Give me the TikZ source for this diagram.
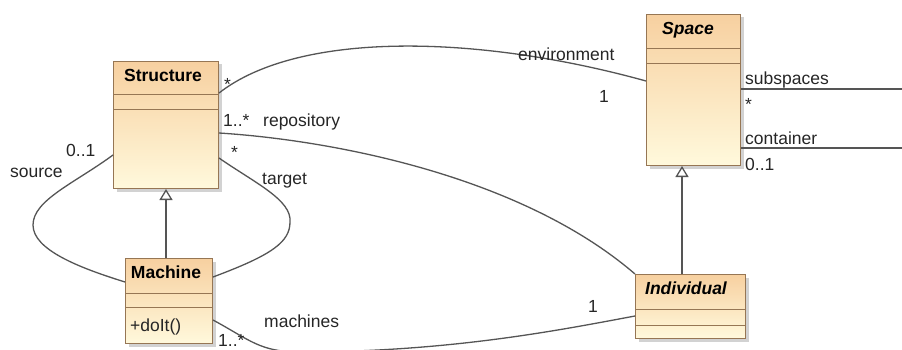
\documentclass[tikz,border=0pt]{standalone}
\usepackage{fontspec}
\setmainfont{Liberation Sans}
\usetikzlibrary{arrows.meta,shadows}
\definecolor{peachTop}{RGB}{247,208,160}
\definecolor{peachBot}{RGB}{255,249,220}
\definecolor{boxBorder}{RGB}{150,118,84}
\definecolor{lineGray}{RGB}{85,85,85}
\begin{document}
\begin{tikzpicture}[x=1pt,y=-1pt,
  cls/.style={draw=boxBorder, line width=1pt, top color=peachTop, bottom color=peachBot, inner sep=0pt, anchor=north west, drop shadow={opacity=0.35, shadow xshift=3pt, shadow yshift=-3pt}},
  divider/.style={draw=boxBorder, line width=1pt},
  ttl/.style={font=\fontsize{17.5}{20}\selectfont\bfseries, anchor=base, inner sep=0pt},
  ittl/.style={ttl, font=\fontsize{17.5}{20}\selectfont\bfseries\itshape},
  lbl/.style={font=\fontsize{17.5}{20}\selectfont, anchor=base west, inner sep=0pt, text=black!85},
  assoc/.style={draw=lineGray, line width=1.3pt},
  gen/.style={draw=lineGray, line width=1.3pt, -{Triangle[open, width=13pt, length=11pt]}}
]
\useasboundingbox[fill=white] (0,0) rectangle (902,350);

% classes
\node[cls, minimum width=105pt, minimum height=127pt] (struct) at (113,61) {};
\node[cls, minimum width=87pt, minimum height=85pt] (mach) at (125,258) {};
\node[cls, minimum width=94pt, minimum height=151pt] (sp) at (646,14) {};
\node[cls, minimum width=110pt, minimum height=64pt] (ind) at (635,274) {};

\path[divider] (struct.west |- 0,95) -- (struct.east |- 0,95);
\path[divider] (struct.west |- 0,110) -- (struct.east |- 0,110);
\path[divider] (mach.west |- 0,293) -- (mach.east |- 0,293);
\path[divider] (mach.west |- 0,307) -- (mach.east |- 0,307);
\path[divider] (sp.west |- 0,49) -- (sp.east |- 0,49);
\path[divider] (sp.west |- 0,64) -- (sp.east |- 0,64);
\path[divider] (ind.west |- 0,309) -- (ind.east |- 0,309);
\path[divider] (ind.west |- 0,325) -- (ind.east |- 0,325);

\node[ttl] (structT) at (163,82) {Structure};
\node[ttl] (machT) at (166,278) {Machine};
\node[ittl] (spT) at (688,35) {Space};
\node[ittl] (indT) at (686,294) {Individual};
\node[lbl, anchor=base west] (opT) at (130,331) {+doIt()};

% free ends
\coordinate (e1) at (902,89);
\coordinate (e2) at (902,148);

% associations
\draw[assoc] (struct.east |- 0,93) .. controls (300,30) and (480,35) .. (sp.west |- 0,81);
\draw[assoc] (struct.east |- 0,133) .. controls (330,140) and (520,175) .. (ind.north west);
\draw[assoc] (struct.east |- 0,158) .. controls (255,183) and (292,200) .. (290,222)
  .. controls (290,242) and (272,255) .. (mach.east |- 0,277);
\draw[assoc] (struct.west |- 0,155) .. controls (75,183) and (33,200) .. (33,225)
  .. controls (33,250) and (80,268) .. (mach.west |- 0,282);
\draw[assoc] (mach.east |- 0,320) .. controls (250,340) and (260,352) .. (300,352)
  .. controls (450,352) and (560,330) .. (ind.west |- 0,316);
\draw[assoc] (sp.east |- 0,89) -- (e1);
\draw[assoc] (sp.east |- 0,148) -- (e2);

% generalizations
\draw[gen] (struct.south |- mach.north) -- (struct.south);
\draw[gen] (ind.north -| 682,0) -- (sp.south -| 682,0);

% labels
\node[lbl] (l1) at (224,91) {*};
\node[lbl] (l2) at (518,61) {environment};
\node[lbl] (l3) at (599,103) {1};
\node[lbl] (l4) at (223,127) {1..*};
\node[lbl] (l5) at (263,127) {repository};
\node[lbl] (l6) at (231,158) {*};
\node[lbl] (l7) at (262,184) {target};
\node[lbl] (l8) at (66,157) {0..1};
\node[lbl] (l9) at (10,177) {source};
\node[lbl] (l10) at (264,327) {machines};
\node[lbl] (l11) at (218,346) {1..*};
\node[lbl] (l12) at (588,312) {1};
\node[lbl] (l13) at (745,85) {subspaces};
\node[lbl] (l14) at (745,111) {*};
\node[lbl] (l15) at (745,144) {container};
\node[lbl] (l16) at (745,171) {0..1};
\end{tikzpicture}
\end{document}
